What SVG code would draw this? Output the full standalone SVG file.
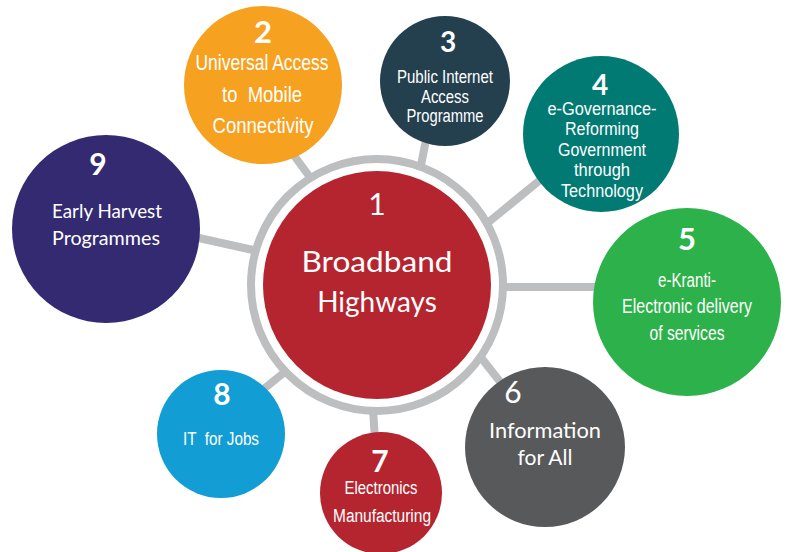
<svg xmlns="http://www.w3.org/2000/svg" width="790" height="552" viewBox="0 0 790 552">
<style>
.conn{stroke:#bcbec0;stroke-width:8;fill:none;stroke-linecap:butt}
text{fill:#ffffff;text-anchor:middle}
.num{font-family:Lato,"Open Sans",sans-serif;font-weight:700}
.geo{font-family:Lato,"Open Sans",sans-serif;font-weight:400}
.cnd{font-family:"Liberation Sans Narrow","Liberation Sans",sans-serif;font-weight:400}
.pre{white-space:pre}
</style>
<rect width="790" height="552" fill="#ffffff"/>
<g id="connectors">
<line class="conn" x1="290" y1="150" x2="312" y2="180"/>
<line class="conn" x1="426" y1="140" x2="421" y2="165"/>
<line class="conn" x1="545" y1="176" x2="485" y2="225"/>
<line class="conn" x1="500" y1="287" x2="610" y2="287"/>
<line class="conn" x1="479" y1="355" x2="505" y2="388"/>
<line class="conn" x1="373" y1="409" x2="375" y2="440"/>
<line class="conn" x1="286" y1="371" x2="255" y2="396"/>
<line class="conn" x1="253" y1="250" x2="190" y2="236"/>
</g>
<g id="node1">
<circle cx="377" cy="285" r="126" fill="none" stroke="#bcbec0" stroke-width="8"/>
<circle cx="377" cy="285" r="114" fill="#b5252f"/>
<text class="geo" x="377" y="215" font-size="30">1</text>
<text class="geo" x="377" y="272" font-size="28" textLength="151" lengthAdjust="spacingAndGlyphs">Broadband</text>
<text class="geo" x="377" y="312" font-size="28">Highways</text>
</g>
<g id="node2">
<circle cx="263" cy="85" r="79" fill="#f6a11f"/>
<text class="num" x="263" y="43" font-size="31">2</text>
<text class="cnd" x="262" y="70" font-size="22" textLength="133" lengthAdjust="spacingAndGlyphs">Universal Access</text>
<text class="cnd pre" x="262" y="102" font-size="22" textLength="80" lengthAdjust="spacingAndGlyphs">to  Mobile</text>
<text class="cnd" x="263" y="133" font-size="22" textLength="101" lengthAdjust="spacingAndGlyphs">Connectivity</text>
</g>
<g id="node3">
<circle cx="445" cy="81" r="65" fill="#24404f"/>
<text class="num" x="448" y="52" font-size="28">3</text>
<text class="cnd" x="445" y="83" font-size="18" textLength="96" lengthAdjust="spacingAndGlyphs">Public Internet</text>
<text class="cnd" x="445" y="103" font-size="18" textLength="48" lengthAdjust="spacingAndGlyphs">Access</text>
<text class="cnd" x="445" y="122" font-size="18" textLength="77" lengthAdjust="spacingAndGlyphs">Programme</text>
</g>
<g id="node4">
<circle cx="601" cy="134" r="78" fill="#007a73"/>
<text class="num" x="600" y="95" font-size="28">4</text>
<text class="cnd" x="602" y="115" font-size="18" textLength="109" lengthAdjust="spacingAndGlyphs">e-Governance-</text>
<text class="cnd" x="602" y="135" font-size="18" textLength="74" lengthAdjust="spacingAndGlyphs">Reforming</text>
<text class="cnd" x="602" y="156" font-size="18" textLength="88" lengthAdjust="spacingAndGlyphs">Government</text>
<text class="cnd" x="602" y="176" font-size="18" textLength="56" lengthAdjust="spacingAndGlyphs">through</text>
<text class="cnd" x="602" y="197" font-size="18" textLength="82" lengthAdjust="spacingAndGlyphs">Technology</text>
</g>
<g id="node5">
<circle cx="687" cy="302" r="94" fill="#2db24b"/>
<text class="num" x="687" y="250" font-size="31">5</text>
<text class="cnd" x="687" y="287" font-size="20" textLength="58" lengthAdjust="spacingAndGlyphs">e-Kranti-</text>
<text class="cnd" x="687" y="313" font-size="20" textLength="130" lengthAdjust="spacingAndGlyphs">Electronic delivery</text>
<text class="cnd" x="687" y="340" font-size="20" textLength="75" lengthAdjust="spacingAndGlyphs">of services</text>
</g>
<g id="node6">
<circle cx="545" cy="447" r="80" fill="#58595b"/>
<text class="geo" x="513" y="403" font-size="30" font-weight="700">6</text>
<text class="geo" x="545" y="438" font-size="21" textLength="112" lengthAdjust="spacingAndGlyphs">Information</text>
<text class="geo" x="545" y="465" font-size="21">for All</text>
</g>
<g id="node7">
<circle cx="381" cy="493" r="61" fill="#b5252f"/>
<text class="num" x="380" y="472" font-size="30">7</text>
<text class="cnd" x="381" y="494" font-size="18" textLength="73" lengthAdjust="spacingAndGlyphs">Electronics</text>
<text class="cnd" x="382" y="522" font-size="18" textLength="98" lengthAdjust="spacingAndGlyphs">Manufacturing</text>
</g>
<g id="node8">
<circle cx="221" cy="434" r="64" fill="#129dd4"/>
<text class="num" x="222" y="405" font-size="30">8</text>
<text class="cnd pre" x="221" y="445" font-size="19" textLength="76" lengthAdjust="spacingAndGlyphs">IT  for Jobs</text>
</g>
<g id="node9">
<circle cx="106" cy="229" r="94" fill="#342a72"/>
<text class="num" x="98" y="175" font-size="30">9</text>
<text class="geo" x="107" y="218" font-size="19" textLength="110" lengthAdjust="spacingAndGlyphs">Early Harvest</text>
<text class="geo" x="106" y="245" font-size="19" textLength="108" lengthAdjust="spacingAndGlyphs">Programmes</text>
</g>
</svg>
